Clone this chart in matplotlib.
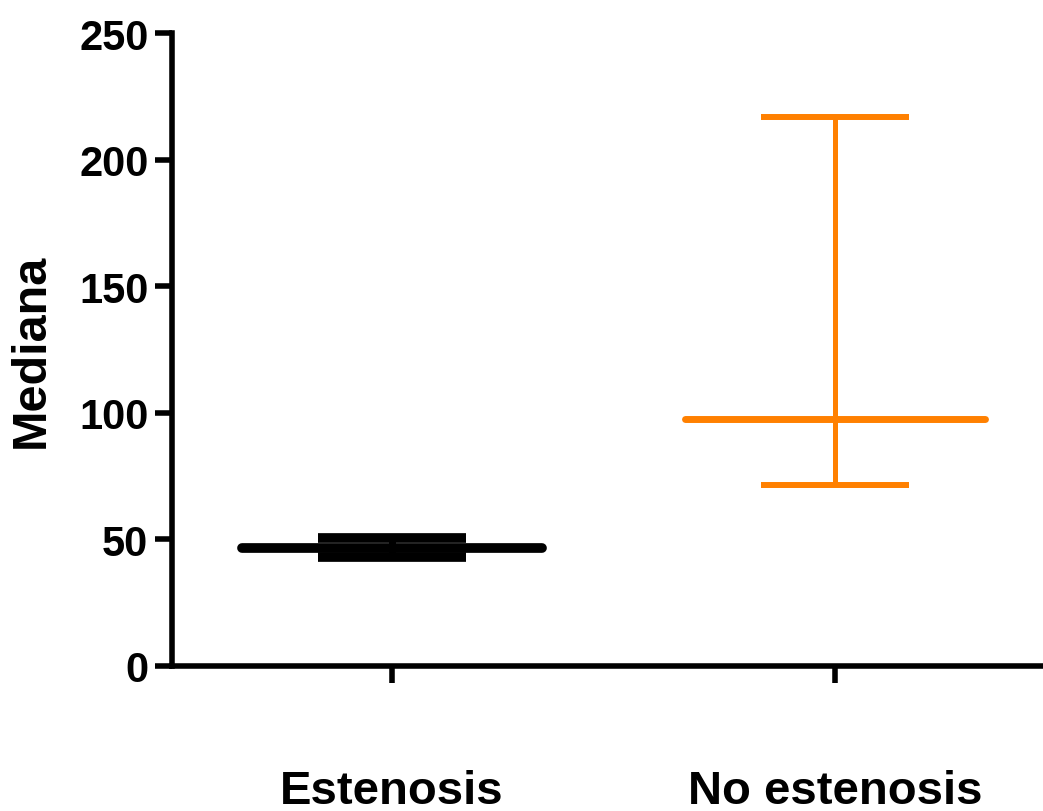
import matplotlib
matplotlib.use("Agg")
import matplotlib.pyplot as plt

# data
groups = ["Estenosis", "No estenosis"]
medians = [46.8, 97.6]
lower = [42.9, 71.5]
upper = [50.6, 216.9]

# styling per group (colour, median width, cap width, bar width)
styles = [("black", 7.0, 7.0, 5.0), ("#FF8000", 5.0, 4.3, 3.6)]

plt.rcParams["font.family"] = ["Liberation Sans", "DejaVu Sans"]
plt.rcParams["font.weight"] = "bold"

fig = plt.figure(figsize=(10.43, 8.12), dpi=100)
ax = fig.add_axes([172 / 1043, 1 - 667 / 812, 1 - 172 / 1043, (667 - 34) / 812])

for i, (m, lo, hi) in enumerate(zip(medians, lower, upper)):
    c, mw, cw, bw = styles[i]
    ax.errorbar(i, m, yerr=[[m - lo], [hi - m]], fmt="none", ecolor=c,
                elinewidth=bw, capsize=53, capthick=cw)
    ax.hlines(m, i - 0.338, i + 0.338, color=c, linewidth=mw, capstyle="round")

ax.set_xlim(-0.497, 1.47)
ax.set_ylim(0, 250)
ax.set_yticks([0, 50, 100, 150, 200, 250])
ax.set_xticks([0, 1])
ax.set_xticklabels(groups, fontsize=34, fontweight="bold")
ax.set_ylabel("Mediana", fontsize=35, fontweight="bold", labelpad=18)

for s in ["top", "right"]:
    ax.spines[s].set_visible(False)
for s in ["left", "bottom"]:
    ax.spines[s].set_linewidth(4)
ax.tick_params(axis="y", direction="out", length=12, width=4, labelsize=30, pad=5)
ax.tick_params(axis="x", direction="out", length=12, width=4, pad=62)
for lab in ax.get_yticklabels():
    lab.set_fontweight("bold")

fig.savefig("out.png", dpi=100)
